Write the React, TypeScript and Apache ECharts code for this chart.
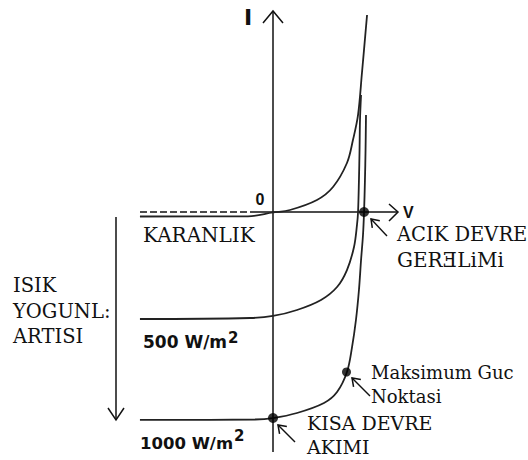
import React, { useEffect, useRef } from "react";
import * as echarts from "echarts";

// Solar cell I-V characteristics: voltage (V) and current (A) readings per curve
const darkV = [-0.887, -0.167, 0, 0.113, 0.293, 0.4, 0.493, 0.533, 0.567, 0.593, 0.627];
const darkI = [-0.065, -0.062, -0.007, 0.029, 0.174, 0.362, 0.71, 1.043, 1.406, 2.014, 2.855];

const v500 = [-0.887, -0.153, 0, 0.16, 0.32, 0.427, 0.493, 0.54, 0.56, 0.567, 0.573, 0.577, 0.58, 0.587];
const i500 = [-1.551, -1.536, -1.507, -1.42, -1.275, -1.087, -0.841, -0.507, -0.188, 0, 0.464, 0.899, 1.333, 1.696];

const v1000 = [-0.887, -0.12, 0, 0.16, 0.34, 0.427, 0.493, 0.527, 0.553, 0.573, 0.587, 0.6, 0.607, 0.613, 0.617, 0.62];
const i1000 = [-3.014, -3.007, -2.986, -2.913, -2.768, -2.609, -2.319, -1.957, -1.565, -1.13, -0.696, -0.333, 0, 0.464, 0.899, 1.406];

// Open-circuit voltage, maximum power point, short-circuit current
const pointV = [0.607, 0.49, 0];
const pointI = [0, -2.319, -2.986];

const INK = "#111";
const CURVE = "#222";
const SERIF = "'DejaVu Serif', serif";
const SANS = "'DejaVu Sans', sans-serif";

const pairs = (vs: number[], is: number[]) => vs.map((v, k) => [v, is[k]]);

const seg = (x1: number, y1: number, x2: number, y2: number, w = 1.5, dash?: number[]) => ({
  type: "line",
  silent: true,
  shape: { x1, y1, x2, y2 },
  style: { stroke: INK, lineWidth: w, lineDash: dash },
});

const chevron = (pts: number[][]) => ({
  type: "polyline",
  silent: true,
  shape: { points: pts },
  style: { stroke: INK, lineWidth: 1.5, fill: null },
});

// small pointer arrow: open head at (hx, hy), tail at (tx, ty)
const pointer = (hx: number, hy: number, tx: number, ty: number) => {
  const dx = tx - hx;
  const dy = ty - hy;
  const len = Math.hypot(dx, dy);
  const ux = dx / len;
  const uy = dy / len;
  const a = (35 * Math.PI) / 180;
  const arm = 9;
  const r1 = [hx + arm * (ux * Math.cos(a) - uy * Math.sin(a)), hy + arm * (ux * Math.sin(a) + uy * Math.cos(a))];
  const r2 = [hx + arm * (ux * Math.cos(-a) - uy * Math.sin(-a)), hy + arm * (ux * Math.sin(-a) + uy * Math.cos(-a))];
  return [seg(hx, hy, tx, ty, 1.4), chevron([r1, [hx, hy], r2])];
};

const label = (text: string, x: number, y: number, font: string, align = "left", rich?: object) => ({
  type: "text",
  silent: true,
  x,
  y,
  style: {
    text,
    font,
    fill: INK,
    align,
    verticalAlign: "middle",
    textAlign: align,
    textVerticalAlign: "middle",
    rich,
  },
});

// irradiance label with a raised "2"
const irradiance = (text: string, x: number, y: number, size: number, raise: number) =>
  label(`${text} W/m{sup|2}`, x, y, `bold ${size}px ${SANS}`, "left", {
    sup: { font: `bold 15px ${SANS}`, fill: INK, padding: [0, 0, raise * 2, 1] },
  });

export default function App() {
  const ref = useRef<HTMLDivElement>(null);

  useEffect(() => {
    if (!ref.current) return;
    const chart = echarts.init(ref.current, undefined, { renderer: "svg" });

    const curve = (name: string, data: number[][]) => ({
      name,
      type: "line",
      data,
      smooth: 0.35,
      showSymbol: false,
      symbol: "none",
      lineStyle: { color: CURVE, width: 1.8 },
      z: 3,
    });

    const sizes = [10, 9, 10];

    chart.setOption({
      animation: false,
      backgroundColor: "#fff",
      grid: { left: 123, top: 5, width: 300, height: 448.5 },
      xAxis: { type: "value", min: -1, max: 1, show: false },
      yAxis: { type: "value", min: -3.5, max: 3.0, show: false },
      series: [
        curve("KARANLIK", pairs(darkV, darkI)),
        curve("500 W/m2", pairs(v500, i500)),
        curve("1000 W/m2", pairs(v1000, i1000)),
        {
          type: "scatter",
          data: pointV.map((v, k) => ({ value: [v, pointI[k]], symbolSize: sizes[k] })),
          itemStyle: { color: "#000" },
          z: 4,
        },
      ],
      graphic: [
        // current axis
        seg(273, 12, 273, 452),
        chevron([[263, 23], [273, 11], [283, 23]]),
        // voltage axis, dashed on the negative side
        seg(140, 212, 255, 212, 1.4, [7, 3]),
        seg(255, 212, 397, 212),
        chevron([[389, 204], [398, 212], [389, 221]]),
        // light intensity arrow
        seg(116, 217, 116, 420),
        chevron([[108, 408], [116, 420], [124, 408]]),
        ...pointer(371, 219, 387, 236),
        ...pointer(352, 378, 370, 396),
        ...pointer(278, 425, 295, 442),
        label("I", 248, 17.5, `bold 22px ${SANS}`, "center"),
        label("0", 260, 199, "bold 16px 'Liberation Sans', sans-serif", "center"),
        label("V", 403, 212.5, "bold 16px 'Liberation Sans', sans-serif"),
        label("KARANLIK", 143, 235, `20px ${SERIF}`),
        label("ACIK DEVRE", 397, 234.5, `19.5px ${SERIF}`),
        label("GERƎLiMi", 397, 260, `20px ${SERIF}`),
        label("ISIK", 13, 285, `19.5px ${SERIF}`),
        label("YOGUNL:", 13, 311.5, `19.5px ${SERIF}`),
        label("ARTISI", 13, 336.5, `19.5px ${SERIF}`),
        irradiance("500", 143, 342, 17, 4),
        irradiance("1000", 140, 443, 16.5, 7),
        label("Maksimum Guc", 371, 372.5, `18px ${SERIF}`),
        label("Noktasi", 371, 396, `18px ${SERIF}`),
        label("KISA DEVRE", 307, 422.5, `19px ${SERIF}`),
        label("AKIMI", 307, 446.5, `19px ${SERIF}`),
      ],
    });

    return () => chart.dispose();
  }, []);

  return (
    <div
      ref={ref}
      style={{ position: "fixed", left: 0, top: 0, width: 528, height: 460, background: "#fff" }}
    />
  );
}
